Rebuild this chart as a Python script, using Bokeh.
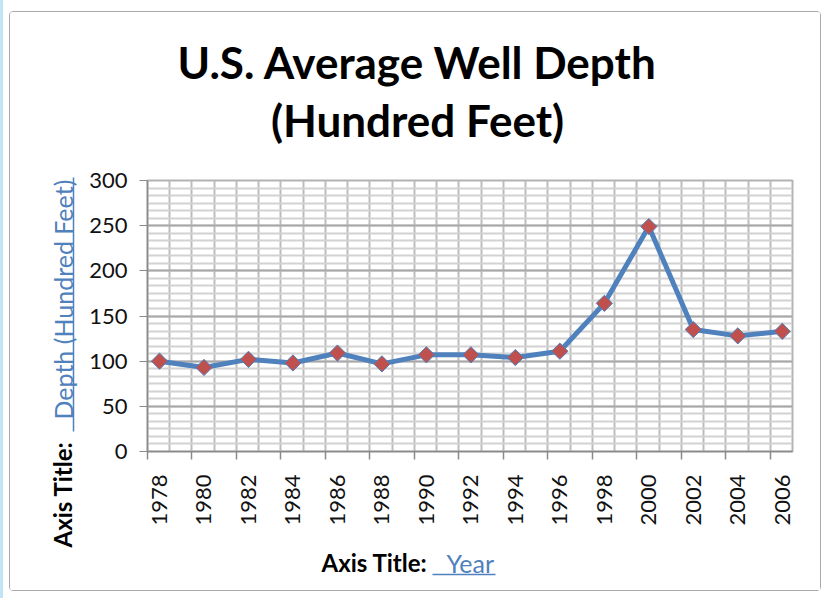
import math
from bokeh.plotting import figure
from bokeh.models import FixedTicker, Range1d
from bokeh.layouts import column, row
from bokeh.core.properties import value
from bokeh.embed import file_html
from bokeh.resources import INLINE

# ---- data ----
years = ["1978", "1980", "1982", "1984", "1986", "1988", "1990", "1992",
         "1994", "1996", "1998", "2000", "2002", "2004", "2006"]
depth = [100, 93, 102, 98, 109, 97, 107, 107, 104, 111, 164, 249, 135, 128, 133]
y_ticks = [0, 50, 100, 150, 200, 250, 300]
title_lines = ["U.S. Average Well Depth", "(Hundred Feet)"]
axis_prefix = ["Axis Title:"]
y_axis_title = ["Depth (Hundred Feet)"]
x_axis_title = ["Year"]

FONT = "Lato"
BLUE_TXT = "#4f81bd"
idx = list(range(len(years)))
x_start = -0.27
x_end = len(years) - 1 + 0.23


def text_fig(w, h, xr=None):
    f = figure(width=w, height=h, output_backend="svg", toolbar_location=None,
               x_range=Range1d(0, xr if xr else w), y_range=Range1d(0, h), min_border=0,
               min_border_left=0, min_border_right=0, min_border_top=0,
               min_border_bottom=0, x_axis_location=None, y_axis_location=None)
    f.xgrid.grid_line_color = None
    f.ygrid.grid_line_color = None
    f.outline_line_color = None
    f.background_fill_color = "white"
    f.border_fill_color = "white"
    return f


# ---- title ----
tf = text_fig(810, 140)
tf.text(x=[407, 407], y=[91, 33], text=title_lines, text_align="center",
        text_baseline="middle", text_font=value(FONT), text_font_style="bold",
        text_font_size="44px", text_color="black")

# ---- y axis title ----
yl = text_fig(75, 438)
yl.text(x=[52], y=[43], text=axis_prefix, angle=math.pi / 2, text_align="left",
        text_baseline="middle", text_font=value(FONT), text_font_style="bold",
        text_font_size="24px", text_color="black")
yl.text(x=[52], y=[171], text=y_axis_title, angle=math.pi / 2, text_align="left",
        text_baseline="middle", text_font=value(FONT), text_font_size="25px",
        text_color=BLUE_TXT)
yl.segment(x0=[63], y0=[159], x1=[63], y1=[413], line_color=BLUE_TXT, line_width=1.5)

# ---- x axis title (frame aligned with the chart frame: local x = page x - 148) ----
xl = text_fig(735, 51, xr=645)
xl.text(x=[174], y=[28], text=axis_prefix, text_align="left", text_baseline="middle",
        text_font=value(FONT), text_font_style="bold", text_font_size="24px",
        text_color="black")
xl.text(x=[299], y=[28], text=x_axis_title, text_align="left", text_baseline="middle",
        text_font=value(FONT), text_font_size="25px", text_color=BLUE_TXT)
xl.segment(x0=[285], y0=[16], x1=[348], y1=[16], line_color=BLUE_TXT, line_width=1.5)

# ---- main chart ----
p = figure(width=735, height=387, output_backend="svg", toolbar_location=None,
           x_range=Range1d(x_start, x_end), y_range=Range1d(0, 300),
           min_border_left=62, min_border_right=28, min_border_top=28,
           min_border_bottom=88)
p.background_fill_color = "white"
p.border_fill_color = "white"
p.outline_line_color = "#b3b3b3"
p.outline_line_width = 2

minor_y = [i * 50 / 6 for i in range(37)]
p.ygrid.ticker = FixedTicker(ticks=y_ticks, minor_ticks=minor_y)
p.ygrid.grid_line_color = "#a8a8a8"
p.ygrid.grid_line_width = 2
p.ygrid.minor_grid_line_color = "#d2d2d2"
p.ygrid.minor_grid_line_width = 2

p.xgrid.ticker = FixedTicker(ticks=[x_start + 0.5 * k for k in range(30)])
p.xgrid.grid_line_color = "#bcbcbc"
p.xgrid.grid_line_width = 2

p.yaxis.ticker = FixedTicker(ticks=y_ticks)
p.yaxis.axis_line_color = "#8a8a8a"
p.yaxis.axis_line_width = 1.5
p.yaxis.major_tick_line_color = "#8a8a8a"
p.yaxis.major_tick_out = 8
p.yaxis.major_tick_in = 0
p.yaxis.minor_tick_line_color = None
p.yaxis.major_label_text_font = FONT
p.yaxis.major_label_text_font_size = "22px"
p.yaxis.major_label_text_color = "#111111"
p.yaxis.major_label_standoff = 12

p.xaxis.ticker = FixedTicker(ticks=idx, minor_ticks=[x_start + k for k in range(len(years))])
p.xaxis.major_label_overrides = {i: y for i, y in zip(idx, years)}
p.xaxis.axis_line_color = "#8a8a8a"
p.xaxis.axis_line_width = 1.5
p.xaxis.major_tick_line_color = None
p.xaxis.major_tick_out = 0
p.xaxis.major_tick_in = 0
p.xaxis.minor_tick_line_color = "#8a8a8a"
p.xaxis.minor_tick_line_width = 1.5
p.xaxis.minor_tick_out = 8
p.xaxis.minor_tick_in = 0
p.xaxis.major_label_orientation = math.pi / 2
p.xaxis.major_label_text_font = FONT
p.xaxis.major_label_text_font_size = "22px"
p.xaxis.major_label_text_color = "#111111"
p.xaxis.major_label_standoff = 15

p.line(idx, depth, line_color="#4F81BD", line_width=5, line_join="round")
p.scatter(idx, depth, marker="square", size=11.5, angle=math.pi / 4,
          fill_color="#C0504D", line_color="#4F81BD", line_width=1)

chart = column(tf, row(yl, column(p, xl)),
               styles={"border": "1px solid #a9a9a9", "border-radius": "4px"},
               margin=(11, 0, 7, 6))
page = column(chart, styles={"border-left": "3px solid #bfe6f7"}, margin=(0, 0, 0, 0))

open("out.html", "w").write(file_html(page, INLINE))
